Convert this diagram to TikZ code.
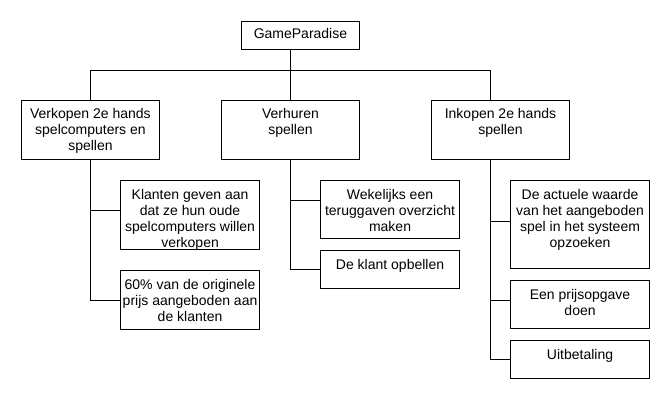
\documentclass[tikz,border=0pt]{standalone}
\usepackage{fontspec}
\setmainfont{Liberation Sans}
\usetikzlibrary{positioning}

\begin{document}
\begin{tikzpicture}[
    x=1pt, y=-1pt,
    % Styles for boxes and their texts
    box/.style={draw=black, line width=0.9pt, rectangle, inner sep=0pt, anchor=north west, minimum width=138.6pt},
    mainbox/.style={box, minimum height=59.3pt},
    txt/.style={inner sep=0pt, align=center, font=\fontsize{14}{16}\selectfont}
]
    \useasboundingbox (0,0) rectangle (670,400);

    % Top level
    \node (game) [box, minimum width=118.6pt, minimum height=28.6pt] at (240.7,20.7) {};
    \node (game-t) [txt, below=7.5pt of game.north] {GameParadise};

    \node (verkopen) [mainbox] at (20.7,100) {};
    \node (verkopen-t) [txt, below=8.5pt of verkopen.north] {Verkopen 2e hands\\spelcomputers en\\spellen};

    \node (verhuren) [mainbox] at (220.7,100) {};
    \node (verhuren-t) [txt, below=8.5pt of verhuren.north] {Verhuren\\spellen};

    \node (inkopen) [mainbox] at (430.7,100) {};
    \node (inkopen-t) [txt, below=8.5pt of inkopen.north] {Inkopen 2e hands\\spellen};

    % Tasks under each part
    \node (klanten) [box, minimum height=69pt] at (120.3,180.3) {};
    \node (klanten-t) [txt, below=8.7pt of klanten.north] {Klanten geven aan\\dat ze hun oude\\spelcomputers willen\\verkopen};

    \node (prijs) [box, minimum height=59pt] at (120.3,270.3) {};
    \node (prijs-t) [txt, below=8.7pt of prijs.north] {60\% van de originele\\prijs aangeboden aan\\de klanten};

    \node (overzicht) [box, minimum height=58pt] at (320.3,180.3) {};
    \node (overzicht-t) [txt, below=8.7pt of overzicht.north] {Wekelijks een\\teruggaven overzicht\\maken};

    \node (opbellen) [box, minimum height=38pt] at (320.3,250.3) {};
    \node (opbellen-t) [txt, below=8.7pt of opbellen.north] {De klant opbellen};

    \node (waarde) [box, minimum height=88pt] at (510.3,180.3) {};
    \node (waarde-t) [txt, below=8.7pt of waarde.north] {De actuele waarde\\van het aangeboden\\spel in het systeem\\opzoeken};

    \node (opgave) [box, minimum height=48pt] at (510.3,280.3) {};
    \node (opgave-t) [txt, below=8.7pt of opgave.north] {Een prijsopgave\\doen};

    \node (betaling) [box, minimum height=38pt] at (510.3,340.3) {};
    \node (betaling-t) [txt, below=8.7pt of betaling.north] {Uitbetaling};

    % Connectors
    \coordinate (bar) at (290.7,70.3);
    \draw [line width=0.9pt] (verhuren.north -| bar) -- (game.south -| bar);
    \draw [line width=0.9pt] (verkopen.north) |- (bar) -| ([xshift=-9.7pt]inkopen.north);

    \draw [line width=0.9pt] (verkopen.south) |- ([yshift=4.5pt]klanten.west);
    \draw [line width=0.9pt] (verkopen.south) |- (prijs.west);

    \draw [line width=0.9pt] (verhuren.south -| bar) |- ([yshift=9pt]overzicht.west);
    \draw [line width=0.9pt] (verhuren.south -| bar) |- (opbellen.west);

    \draw [line width=0.9pt] ([xshift=-9.7pt]inkopen.south) |- ([yshift=3.3pt]waarde.west);
    \draw [line width=0.9pt] ([xshift=-9.7pt]inkopen.south) |- ([yshift=4pt]opgave.west);
    \draw [line width=0.9pt] ([xshift=-9.7pt]inkopen.south) |- (betaling.west);

\end{tikzpicture}
\end{document}
